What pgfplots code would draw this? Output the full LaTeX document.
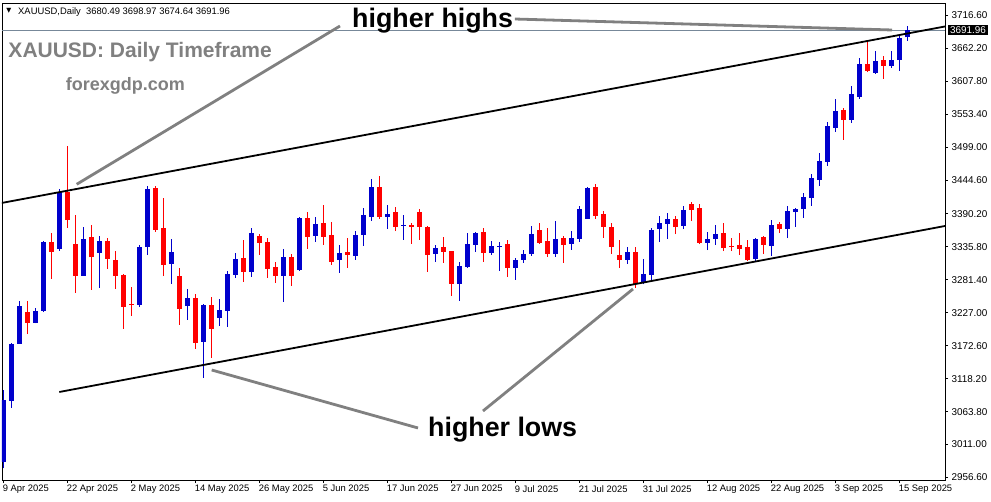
\documentclass[border=0pt]{standalone}
\usepackage{fontspec}
\setmainfont{Liberation Sans}
\newfontfamily\dejavu{DejaVu Sans}
\usepackage{pgfplots}
\pgfplotsset{compat=1.18}
\usepackage{pgfplotstable}
\definecolor{cblue}{RGB}{0,0,204}
\definecolor{cred}{RGB}{255,0,0}
\definecolor{agray}{RGB}{128,128,128}
\definecolor{bidline}{RGB}{119,136,153}

% bullish candles: index open high low close
\pgfplotstableread{
i o h l c
0 2981.6 3099.7 2970.7 3083.2
1 3082.0 3177.6 3070.5 3175.4
2 3175.9 3246.3 3175.9 3238.0
4 3210.5 3234.7 3209.5 3229.3
5 3229.8 3345.0 3228.1 3343.4
7 3332.4 3430.2 3329.1 3425.3
10 3287.9 3368.1 3287.9 3348.4
12 3325.8 3353.3 3268.2 3345.1
17 3239.7 3338.5 3236.9 3335.2
18 3335.7 3435.7 3322.5 3430.7
21 3307.7 3348.4 3274.3 3327.0
23 3238.5 3266.0 3215.0 3251.2
25 3179.2 3241.3 3119.9 3239.7
27 3218.7 3249.5 3205.6 3231.4
28 3230.3 3295.7 3203.9 3290.7
29 3289.6 3325.3 3284.6 3315.4
31 3294.5 3366.5 3286.3 3358.2
35 3287.9 3331.9 3245.1 3318.7
37 3297.8 3384.5 3296.2 3383.0
39 3353.8 3384.6 3343.9 3373.1
42 3314.3 3338.5 3292.9 3325.3
44 3320.9 3361.5 3314.3 3355.0
45 3355.4 3399.4 3337.3 3387.9
46 3385.1 3447.2 3378.5 3434.0
48 3385.1 3404.9 3365.3 3389.5
50 3370.4 3387.9 3347.2 3372.0
54 3324.2 3338.5 3311.0 3333.5
57 3274.7 3310.5 3246.7 3303.9
58 3302.7 3358.2 3301.1 3340.1
59 3339.0 3359.9 3327.5 3358.2
61 3325.8 3345.1 3322.5 3336.8
62 3336.0 3343.4 3296.2 3337.6
64 3301.1 3317.1 3281.3 3314.3
65 3314.3 3330.2 3309.3 3323.7
66 3323.7 3369.8 3320.9 3356.6
69 3324.2 3378.0 3319.2 3348.4
71 3340.6 3361.5 3330.7 3350.0
72 3348.9 3402.7 3343.9 3397.8
73 3381.8 3434.0 3381.8 3432.4
78 3314.3 3335.2 3307.7 3327.0
80 3277.1 3315.4 3273.8 3290.7
81 3289.1 3366.5 3280.8 3363.2
82 3364.8 3386.2 3343.4 3374.7
83 3373.1 3391.2 3348.4 3381.3
85 3369.8 3402.7 3364.8 3396.1
88 3341.8 3359.9 3330.2 3348.4
89 3348.4 3371.4 3338.5 3356.6
94 3315.4 3350.0 3312.1 3348.4
96 3336.8 3379.7 3320.4 3371.4
98 3364.8 3402.7 3350.0 3394.5
99 3392.8 3399.4 3368.9 3397.8
100 3398.3 3424.1 3383.4 3417.5
101 3416.4 3455.4 3403.2 3448.8
102 3446.0 3490.0 3436.1 3476.8
103 3475.7 3541.1 3469.1 3534.5
104 3531.7 3578.9 3525.1 3559.2
106 3544.9 3600.4 3539.9 3587.2
107 3582.7 3646.5 3579.4 3636.6
109 3622.3 3658.0 3620.6 3641.5
111 3633.8 3658.0 3630.5 3643.2
112 3643.7 3684.4 3625.6 3679.4
113 3680.49 3698.97 3674.64 3691.96
}\up

% bearish candles: index open high low close
\pgfplotstableread{
i o h l c
3 3227.6 3246.3 3191.9 3210.5
6 3343.4 3358.2 3283.0 3327.5
8 3425.3 3501.5 3367.0 3380.2
9 3340.1 3387.9 3259.9 3287.9
11 3351.7 3371.4 3264.9 3318.2
13 3345.1 3350.0 3299.4 3315.9
14 3313.8 3328.6 3266.5 3287.9
15 3289.1 3290.7 3200.6 3236.9
16 3241.0 3269.8 3222.0 3239.4
19 3432.4 3435.7 3360.4 3363.7
20 3366.5 3415.9 3287.4 3306.0
22 3287.4 3300.1 3207.2 3233.6
24 3251.2 3257.8 3167.7 3177.6
26 3239.7 3252.8 3152.9 3200.6
30 3317.1 3346.7 3278.0 3294.5
32 3353.3 3356.6 3322.5 3342.3
33 3343.4 3350.0 3284.6 3299.4
34 3302.3 3310.5 3276.4 3287.9
36 3318.7 3323.7 3271.4 3287.9
38 3383.0 3392.8 3332.4 3352.2
40 3374.7 3404.4 3339.0 3352.2
41 3355.0 3376.4 3306.0 3311.0
43 3327.0 3350.0 3301.1 3322.5
47 3434.0 3452.1 3381.8 3385.1
49 3392.8 3401.1 3361.5 3368.6
51 3371.4 3374.7 3340.6 3368.6
52 3392.8 3397.8 3347.2 3368.6
53 3368.1 3369.8 3294.5 3322.5
55 3335.2 3351.7 3309.3 3327.5
56 3328.6 3328.6 3255.0 3274.7
60 3359.9 3366.5 3311.0 3325.8
63 3340.1 3346.7 3286.3 3301.1
67 3363.2 3374.7 3340.6 3342.3
68 3345.1 3366.5 3319.2 3324.2
70 3350.0 3353.3 3309.3 3339.0
74 3434.0 3439.0 3381.8 3386.7
75 3390.0 3395.0 3350.5 3368.6
76 3368.1 3374.7 3324.2 3335.7
77 3322.0 3346.7 3301.1 3314.3
79 3327.0 3335.2 3268.2 3274.7
84 3381.3 3386.2 3356.6 3368.1
86 3406.0 3409.3 3378.0 3396.1
87 3399.4 3406.0 3340.1 3341.8
90 3358.2 3374.7 3328.6 3333.5
91 3337.0 3350.0 3328.6 3335.4
92 3338.5 3358.2 3322.0 3331.9
93 3335.2 3346.7 3312.1 3313.8
95 3351.7 3353.3 3323.7 3338.5
97 3373.1 3376.4 3358.2 3364.8
105 3560.8 3564.1 3511.9 3544.9
108 3636.6 3674.5 3623.4 3625.6
110 3643.2 3649.8 3612.4 3633.8
}\down

\begin{document}
\begin{tikzpicture}
\begin{axis}[
  at={(0,0)}, anchor=south west,
  scale only axis, width=943pt, height=477pt,
  xmin=-0.2125, xmax=117.6625, ymin=2951.44, ymax=3737.06,
  axis line style={line width=0.8pt},
  tick align=outside, major tick length=3pt,
  tick style={black, line width=0.6pt},
  xtick pos=left, ytick pos=right, yticklabel pos=right,
  xtick={0,8,...,112},
  xticklabels={9 Apr 2025,22 Apr 2025,2 May 2025,14 May 2025,26 May 2025,5 Jun 2025,17 Jun 2025,27 Jun 2025,9 Jul 2025,21 Jul 2025,31 Jul 2025,12 Aug 2025,22 Aug 2025,3 Sep 2025,15 Sep 2025},
  ytick={2956.6,3011,3063.8,3118.2,3172.6,3227,3281.4,3335.8,3390.2,3444.6,3499,3553.4,3607.8,3662.2,3716.6},
  yticklabels={2956.60,3011.00,3063.80,3118.20,3172.60,3227.00,3281.40,3335.80,3390.20,3444.60,3499.00,3553.40,3607.80,3662.20,3716.60},
  /pgf/number format/assume math mode=true,
  xticklabel style={anchor=north west, inner sep=0pt, xshift=-1pt, yshift=-2pt, font=\fontsize{9.4}{10}\selectfont},
  yticklabel style={anchor=west, inner sep=0pt, xshift=3.5pt, font=\fontsize{9.9}{10}\selectfont},
  clip mode=individual,
  candle/.style={draw=none, mark=none, forget plot},
]
% bid line
\addplot[bidline, line width=0.7pt, forget plot] coordinates {(-0.2125,3691.96) (117.6625,3691.96)};
% wicks
\addplot[candle, error bars/.cd, y dir=plus, y explicit, error mark=none,
  error bar style={line width=1pt, draw=cblue, solid}]
  table[x=i, y=l, y error plus expr=\thisrow{h}-\thisrow{l}] {\up};
\addplot[candle, error bars/.cd, y dir=plus, y explicit, error mark=none,
  error bar style={line width=1pt, draw=cred, solid}]
  table[x=i, y=l, y error plus expr=\thisrow{h}-\thisrow{l}] {\down};
% bodies
\addplot[candle, error bars/.cd, y dir=plus, y explicit, error mark=none,
  error bar style={line width=5pt, draw=cblue, solid}]
  table[x=i, y=o, y error plus expr=\thisrow{c}-\thisrow{o}] {\up};
\addplot[candle, error bars/.cd, y dir=plus, y explicit, error mark=none,
  error bar style={line width=5pt, draw=cred, solid}]
  table[x=i, y=c, y error plus expr=\thisrow{o}-\thisrow{c}] {\down};
% channel lines
\addplot[black, line width=1.8pt, forget plot] coordinates {(-0.46,3407.2) (117.66,3698.4)};
\addplot[black, line width=1.8pt, forget plot] coordinates {(6.95,3096.4) (117.66,3369.8)};
% annotation lines
\addplot[agray, line width=2.8pt, forget plot] coordinates {(9.125,3438.5) (42.04,3699.2)};
\addplot[agray, line width=2.8pt, forget plot] coordinates {(63.9,3710.7) (111.04,3692.6)};
\addplot[agray, line width=2.8pt, forget plot] coordinates {(26.0,3132.6) (51.79,3037.1)};
\addplot[agray, line width=2.8pt, forget plot] coordinates {(59.91,3065.1) (78.66,3266.0)};
% texts
\node[anchor=center, inner sep=0pt, font=\dejavu\fontsize{6.5}{7}\selectfont] at (axis cs:0.66,3724.7) {▼};
\node[anchor=base west, inner sep=0pt, font=\fontsize{9.4}{10}\selectfont] at (axis cs:1.79,3717.8) {XAUUSD,Daily\ \ 3680.49 3698.97 3674.64 3691.96};
\node[anchor=base west, inner sep=0pt, text=agray, font=\bfseries\fontsize{21}{24}\selectfont] at (axis cs:0.575,3647.6) {XAUUSD: Daily Timeframe};
\node[anchor=base west, inner sep=0pt, text=agray, font=\bfseries\fontsize{18}{21}\selectfont] at (axis cs:7.75,3592.6) {forexgdp.com};
\node[anchor=base west, inner sep=0pt, font=\bfseries\fontsize{26.8}{30}\selectfont] at (axis cs:43.54,3695.9) {higher highs};
\node[anchor=base west, inner sep=0pt, font=\bfseries\fontsize{26.8}{30}\selectfont] at (axis cs:53.04,3023.9) {higher lows};
\node[anchor=west, fill=black, text=white, inner xsep=2pt, inner ysep=1.5pt, xshift=3pt, font=\fontsize{9.9}{10}\selectfont] at (axis cs:117.6625,3691.96) {3691.96};
\end{axis}
\pgfresetboundingbox
\path[use as bounding box] (-2pt,-21pt) rectangle (989pt,480pt);
\end{tikzpicture}
\end{document}
